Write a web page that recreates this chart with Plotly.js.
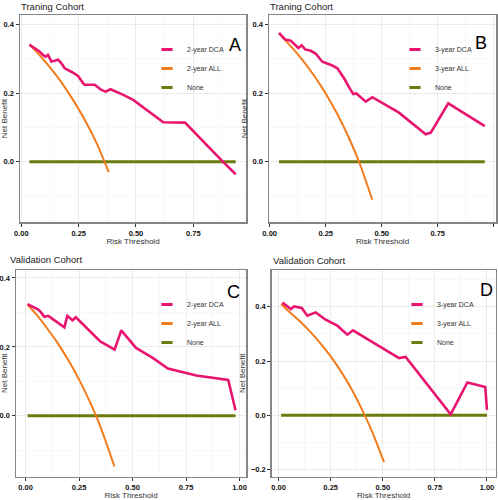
<!DOCTYPE html>
<html>
<head>
<meta charset="utf-8">
<script src="https://cdn.plot.ly/plotly-3.0.1.min.js"></script>
<style>html,body{margin:0;padding:0;background:#fff;}#chart{width:498px;height:500px;}</style>
</head>
<body>
<div id="chart"></div>
<script>
// ---------- Data ----------
// Panel A: Training cohort, 2-year
const aDcaThr = [0.036,0.058,0.079,0.094,0.106,0.116,0.131,0.145,0.160,0.174,0.189,0.218,0.247,0.269,0.276,0.320,0.349,0.368,0.389,0.440,0.488,0.619,0.714,0.881,0.935];
const aDcaNB  = [0.340,0.330,0.321,0.311,0.306,0.311,0.292,0.294,0.297,0.287,0.272,0.262,0.250,0.229,0.224,0.224,0.209,0.204,0.211,0.196,0.180,0.115,0.114,-0.001,-0.036];
const aAllThr = [0.035,0.08,0.13,0.18,0.23,0.28,0.33,0.381];
const aAllNB  = [0.342,0.310,0.270,0.226,0.175,0.118,0.052,-0.030];
const aNoneThr = [0.035,0.935];
const aNoneNB  = [0,0];

// Panel B: Training cohort, 3-year
const bDcaThr = [0.042,0.056,0.068,0.094,0.108,0.128,0.143,0.158,0.183,0.205,0.235,0.277,0.302,0.332,0.354,0.373,0.387,0.429,0.458,0.577,0.696,0.719,0.797,0.960];
const bDcaNB  = [0.375,0.363,0.356,0.352,0.344,0.331,0.339,0.327,0.323,0.315,0.291,0.281,0.272,0.243,0.217,0.197,0.199,0.175,0.188,0.143,0.080,0.085,0.170,0.104];
const bAllThr = [0.042,0.10,0.15,0.20,0.25,0.30,0.35,0.40,0.458];
const bAllNB  = [0.373,0.332,0.293,0.249,0.199,0.141,0.075,-0.002,-0.110];
const bNoneThr = [0.042,0.960];
const bNoneNB  = [0,0];

// Panel C: Validation cohort, 2-year
const cDcaThr = [0.009,0.036,0.059,0.072,0.087,0.106,0.134,0.181,0.195,0.219,0.235,0.349,0.416,0.447,0.516,0.594,0.665,0.798,0.947,0.981];
const cDcaNB  = [0.324,0.315,0.308,0.300,0.287,0.290,0.277,0.257,0.290,0.277,0.286,0.216,0.192,0.248,0.197,0.168,0.137,0.117,0.104,0.016];
const cAllThr = [0.009,0.05,0.10,0.15,0.20,0.25,0.30,0.35,0.415];
const cAllNB  = [0.323,0.294,0.254,0.211,0.161,0.105,0.041,-0.032,-0.147];
const cNoneThr = [0.009,0.981];
const cNoneNB  = [0,0];

// Panel D: Validation cohort, 3-year
const dDcaThr = [0.018,0.059,0.074,0.111,0.138,0.178,0.226,0.282,0.330,0.357,0.578,0.610,0.826,0.906,0.992,1.000];
const dDcaNB  = [0.415,0.391,0.401,0.395,0.367,0.379,0.352,0.330,0.297,0.313,0.211,0.215,0.004,0.121,0.104,0.020];
const dAllThr = [0.012,0.05,0.10,0.15,0.20,0.25,0.30,0.35,0.40,0.45,0.506];
const dAllNB  = [0.410,0.382,0.348,0.309,0.266,0.217,0.161,0.097,0.022,-0.062,-0.172];
const dNoneThr = [0.012,1.000];
const dNoneNB  = [0,0];

const panelTitles = ["Traning Cohort","Traning Cohort","Validation Cohort","Validation Cohort"];
const panelLetters = ["A","B","C","D"];
const dcaNames = ["2-year DCA","3-year DCA","2-year DCA","3-year DCA"];
const allNames = ["2-year ALL","3-year ALL","2-year ALL","3-year ALL"];
const noneName = "None";
const xTitle = "Risk Threshold";
const yTitle = "Net Benefit";

// ---------- Styling ----------
const C_DCA = "#e8146f", C_ALL = "#f27b1c", C_NONE = "#6e7a0e";
const FONT = "'Liberation Sans Narrow', 'Liberation Sans', Arial, sans-serif";
const W = 498, H = 500;
const px = v => v / W, py = v => 1 - v / H;

const panels = [
  {dca:[aDcaThr,aDcaNB], all:[aAllThr,aAllNB], none:[aNoneThr,aNoneNB],
   xd:[20,246], yd:[15,222], xr:[-0.006,0.98], yr:[-0.175,0.427],
   title:[19,6], letter:[235,45], legend:[147,35], standoff:2},
  {dca:[bDcaThr,bDcaNB], all:[bAllThr,bAllNB], none:[bNoneThr,bNoneNB],
   xd:[269,496], yd:[15,222], xr:[-0.003,1.01], yr:[-0.175,0.427],
   title:[268,6], letter:[481,43], legend:[395,35], standoff:2},
  {dca:[cDcaThr,cDcaNB], all:[cAllThr,cAllNB], none:[cNoneThr,cNoneNB],
   xd:[16,246], yd:[270,476.5], xr:[-0.045,1.03], yr:[-0.176,0.423],
   title:[8,259], letter:[233,292], legend:[147,290], standoff:1},
  {dca:[dDcaThr,dDcaNB], all:[dAllThr,dAllNB], none:[dNoneThr,dNoneNB],
   xd:[271.7,495.7], yd:[270,476.5], xr:[-0.033,1.042], yr:[-0.225,0.535],
   title:[271,260], letter:[486,290], legend:[397,290], standoff:1}
];

const data = [];
const layout = {
  width: W, height: H,
  margin: {l:0, r:0, t:0, b:0},
  paper_bgcolor: "#fff", plot_bgcolor: "#fff",
  font: {family: FONT, color: "#222"},
  showlegend: true,
  annotations: []
};

panels.forEach((p, i) => {
  const n = i === 0 ? "" : String(i + 1);
  const xa = "x" + n, ya = "y" + n, lg = "legend" + n;
  // main lines
  data.push({x:p.none[0], y:p.none[1], xaxis:xa, yaxis:ya, mode:"lines",
    line:{color:C_NONE, width:3}, showlegend:false, hoverinfo:"skip"});
  data.push({x:p.all[0], y:p.all[1], xaxis:xa, yaxis:ya, mode:"lines",
    line:{color:C_ALL, width:2, shape:"spline", smoothing:0.6}, showlegend:false, hoverinfo:"skip"});
  data.push({x:p.dca[0], y:p.dca[1], xaxis:xa, yaxis:ya, mode:"lines",
    line:{color:C_DCA, width:2.6}, showlegend:false, hoverinfo:"skip"});
  // legend keys (no data; short dash keys like ggplot)
  [[dcaNames[i], C_DCA], [allNames[i], C_ALL], [noneName, C_NONE]].forEach(([nm, col]) => {
    data.push({x:[null], y:[null], xaxis:xa, yaxis:ya, mode:"markers", name:nm, legend:lg,
      marker:{symbol:"line-ew", size:8, color:col, line:{color:col, width:3}}, hoverinfo:"skip"});
  });

  layout["xaxis" + n] = {
    domain:[px(p.xd[0]), px(p.xd[1])], range:p.xr, anchor:ya,
    tick0:0, dtick:0.25, tickformat:".2f",
    showgrid:true, gridcolor:"#e6e6e6", gridwidth:0.8,
    minor:{tick0:0, dtick:0.125, showgrid:true, gridcolor:"#f1f1f1", gridwidth:0.5},
    zeroline:false, showline:true, mirror:true, linecolor:"#858585", linewidth:1.5,
    ticks:"outside", ticklen:3, tickcolor:"#333", tickwidth:1,
    tickfont:{size:7.5, color:"#111", weight:"bold"},
    title:{text:xTitle, font:{size:8, color:"#333"}, standoff:p.standoff},
    fixedrange:true
  };
  layout["yaxis" + n] = {
    domain:[py(p.yd[1]), py(p.yd[0])], range:p.yr, anchor:xa,
    tick0:0, dtick:0.2, tickformat:".1f",
    showgrid:true, gridcolor:"#e6e6e6", gridwidth:0.8,
    minor:{tick0:0, dtick:0.1, showgrid:true, gridcolor:"#f1f1f1", gridwidth:0.5},
    zeroline:false, showline:true, mirror:true, linecolor:"#858585", linewidth:1.5,
    ticks:"outside", ticklen:3, tickcolor:"#333", tickwidth:1,
    tickfont:{size:7.5, color:"#111", weight:"bold"},
    title:{text:yTitle, font:{size:8, color:"#333"}, standoff:4},
    fixedrange:true
  };
  layout[lg] = {
    x:px(p.legend[0]), y:py(p.legend[1]), xanchor:"left", yanchor:"top",
    xref:"paper", yref:"paper",
    bgcolor:"rgba(0,0,0,0)", borderwidth:0,
    font:{size:7, color:"#333"}, itemwidth:30
  };
  layout.annotations.push({
    text:panelTitles[i], xref:"paper", yref:"paper",
    x:px(p.title[0]), y:py(p.title[1]), xanchor:"left", yanchor:"middle",
    showarrow:false, font:{size:9.5, color:"#222"}
  });
  layout.annotations.push({
    text:panelLetters[i], xref:"paper", yref:"paper",
    x:px(p.letter[0]), y:py(p.letter[1]), xanchor:"center", yanchor:"middle",
    showarrow:false, font:{size:18, color:"#000"}
  });
});

Plotly.newPlot("chart", data, layout, {staticPlot:true, displayModeBar:false});
</script>
</body>
</html>
